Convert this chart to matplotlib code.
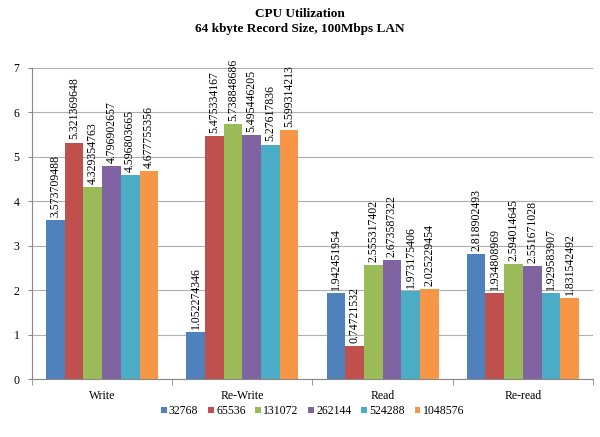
import numpy as np
import matplotlib.pyplot as plt

plt.rcParams['font.family'] = ['Liberation Serif', 'DejaVu Serif']

categories = ["Write", "Re-Write", "Read", "Re-read"]
series_names = ["32768", "65536", "131072", "262144", "524288", "1048576"]
values = [
    [3.573709488, 1.052274346, 1.942451954, 2.818902493],
    [5.321369648, 5.475334167, 0.74721532, 1.934808969],
    [4.329354763, 5.738848686, 2.555317402, 2.594014645],
    [4.796902657, 5.495446205, 2.673587322, 2.551671028],
    [4.596803665, 5.27617836, 1.973175406, 1.929583907],
    [4.677755356, 5.599314213, 2.025229454, 1.831542492],
]
labels = [
    ["3.573709488", "1.052274346", "1.942451954", "2.818902493"],
    ["5.321369648", "5.475334167", "0.74721532", "1.934808969"],
    ["4.329354763", "5.738848686", "2.555317402", "2.594014645"],
    ["4.796902657", "5.495446205", "2.673587322", "2.551671028"],
    ["4.596803665", "5.27617836", "1.973175406", "1.929583907"],
    ["4.677755356", "5.599314213", "2.025229454", "1.831542492"],
]
colors = ["#4F81BD", "#C0504D", "#9BBB59", "#8064A2", "#4BACC6", "#F79646"]

fig = plt.figure(figsize=(6, 4.37), dpi=100)
ax = fig.add_axes([0.0533, 0.1327, 0.935, 0.7117])

x = np.arange(len(categories))
w = 0.80 / len(series_names)
for i, name in enumerate(series_names):
    pos = x - 0.40 + w * (i + 0.5)
    ax.bar(pos, values[i], width=w, color=colors[i], label=name, zorder=3)
    for px, v, t in zip(pos, values[i], labels[i]):
        ax.text(px, v + 0.07, t, rotation=90, ha='center', va='bottom',
                fontsize=8.5, zorder=4)

ax.set_xlim(-0.5, len(categories) - 0.5)
ax.set_ylim(0, 7)
ax.set_yticks(range(8))
ax.set_xticks(x)
ax.set_xticklabels(categories, fontsize=8.5)
ax.tick_params(axis='y', labelsize=8.5, length=3, color='#888888', pad=6)
ax.tick_params(axis='x', length=0, pad=8)
ax.set_xticks(np.arange(-0.5, len(categories)), minor=True)
ax.tick_params(axis='x', which='minor', length=4, color='#888888')
ax.grid(axis='y', color='#B0B0B0', linewidth=0.8, zorder=0)
for s in ['top', 'right']:
    ax.spines[s].set_visible(False)
for s in ['left', 'bottom']:
    ax.spines[s].set_color('#888888')

fig.text(0.5, 0.968, "CPU Utilization", ha='center', va='center',
         fontsize=9.5, fontweight='bold')
fig.text(0.5, 0.933, "64 kbyte Record Size, 100Mbps LAN", ha='center', va='center',
         fontsize=9.5, fontweight='bold')

ax.legend(loc='upper center', bbox_to_anchor=(0.5, -0.05), ncol=6, frameon=False,
          fontsize=8.5, handlelength=0.5, handleheight=0.5, handletextpad=0.2,
          columnspacing=0.8)

fig.savefig("out.png", dpi=100)
